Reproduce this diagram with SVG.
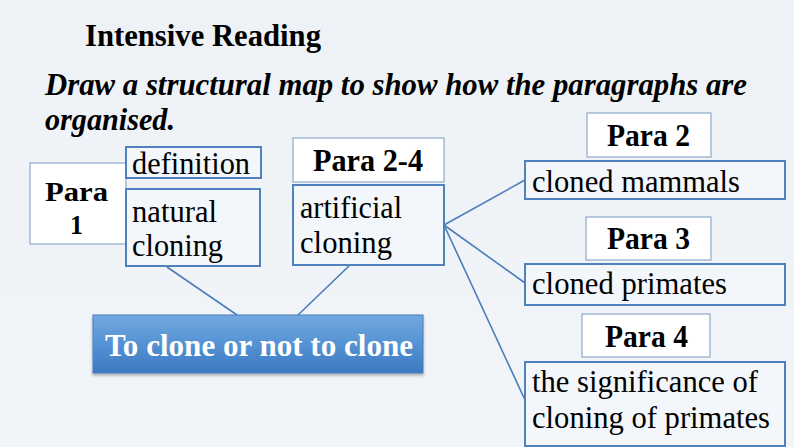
<svg xmlns="http://www.w3.org/2000/svg" width="794" height="447" viewBox="0 0 794 447">
<defs>
<linearGradient id="bg" x1="0" y1="0" x2="0" y2="1"><stop offset="0" stop-color="#eef2f6"/><stop offset="1" stop-color="#f1f4f8"/></linearGradient>
<linearGradient id="blue" x1="0" y1="0" x2="0" y2="1"><stop offset="0" stop-color="#72a8df"/><stop offset="0.5" stop-color="#5592d4"/><stop offset="1" stop-color="#3b78c0"/></linearGradient>
<filter id="sh" x="-5%" y="-10%" width="110%" height="130%"><feDropShadow dx="0" dy="2" stdDeviation="1.5" flood-color="#000" flood-opacity="0.3"/></filter>
</defs>
<style>
.para{fill:#ffffff;stroke:#8eaacb;stroke-width:1.2}
.box{fill:#f3f6fa;stroke:#4f81bd;stroke-width:2}
text{font-family:"Liberation Serif","Times New Roman",serif;font-size:32px;fill:#000}
.b{font-weight:bold}
.conn{stroke:#4a7ebb;stroke-width:1.6;fill:none}
</style>
<rect width="794" height="447" fill="url(#bg)"/>
<g id="title">
<text class="b" x="85" y="46" textLength="236" lengthAdjust="spacingAndGlyphs">Intensive Reading</text>
<text class="b" x="45" y="95" font-style="italic" font-size="31" textLength="702" lengthAdjust="spacingAndGlyphs">Draw a structural map to show how the paragraphs are</text>
<text class="b" x="45" y="130" font-style="italic" font-size="31" textLength="130" lengthAdjust="spacingAndGlyphs">organised.</text>
</g>
<g id="connectors">
<line class="conn" x1="167" y1="267" x2="237" y2="315"/>
<line class="conn" x1="350" y1="265" x2="298" y2="315"/>
<line class="conn" x1="444" y1="225" x2="525" y2="180"/>
<line class="conn" x1="444" y1="225" x2="525" y2="283"/>
<line class="conn" x1="444" y1="225" x2="525" y2="400"/>
</g>
<g id="para1">
<rect class="para" x="30" y="163" width="96" height="81"/>
<text class="b" style="font-size:27px" x="45" y="201" textLength="63" lengthAdjust="spacingAndGlyphs">Para</text>
<text class="b" style="font-size:27px" x="70" y="234" textLength="13" lengthAdjust="spacingAndGlyphs">1</text>
</g>
<g id="definition">
<rect class="box" x="126" y="147" width="135" height="31"/>
<text x="132" y="174" textLength="118" lengthAdjust="spacingAndGlyphs">definition</text>
</g>
<g id="natural">
<rect class="box" x="126" y="189" width="134" height="77"/>
<text x="132" y="222" textLength="85" lengthAdjust="spacingAndGlyphs">natural</text>
<text x="132" y="256" textLength="91" lengthAdjust="spacingAndGlyphs">cloning</text>
</g>
<g id="para24">
<rect class="para" x="293" y="138" width="151" height="44"/>
<text class="b" x="313" y="171" textLength="110" lengthAdjust="spacingAndGlyphs">Para 2-4</text>
</g>
<g id="artificial">
<rect class="box" x="293" y="185" width="151" height="80"/>
<text x="300" y="218" textLength="102" lengthAdjust="spacingAndGlyphs">artificial</text>
<text x="300" y="253" textLength="92" lengthAdjust="spacingAndGlyphs">cloning</text>
</g>
<g id="main">
<rect x="93" y="315" width="330" height="58" fill="url(#blue)" stroke="#4a7ebb" stroke-width="1" filter="url(#sh)"/>
<text class="b" x="105" y="356" style="fill:#ffffff" textLength="308" lengthAdjust="spacingAndGlyphs">To clone or not to clone</text>
</g>
<g id="para2">
<rect class="para" x="587" y="113" width="124" height="44"/>
<text class="b" x="607" y="146" textLength="83" lengthAdjust="spacingAndGlyphs">Para 2</text>
</g>
<g id="mammals">
<rect class="box" x="525" y="161" width="260" height="38"/>
<text x="532" y="192" textLength="208" lengthAdjust="spacingAndGlyphs">cloned mammals</text>
</g>
<g id="para3">
<rect class="para" x="586" y="217" width="125" height="43"/>
<text class="b" x="607" y="249" textLength="83" lengthAdjust="spacingAndGlyphs">Para 3</text>
</g>
<g id="primates">
<rect class="box" x="525" y="264" width="260" height="41"/>
<text x="532" y="294" textLength="195" lengthAdjust="spacingAndGlyphs">cloned primates</text>
</g>
<g id="para4">
<rect class="para" x="582" y="314" width="128" height="43"/>
<text class="b" x="605" y="347" textLength="83" lengthAdjust="spacingAndGlyphs">Para 4</text>
</g>
<g id="significance">
<rect class="box" x="525" y="362" width="260" height="84"/>
<text x="532" y="392" textLength="226" lengthAdjust="spacingAndGlyphs">the significance of</text>
<text x="532" y="428" textLength="238" lengthAdjust="spacingAndGlyphs">cloning of primates</text>
</g>
</svg>
